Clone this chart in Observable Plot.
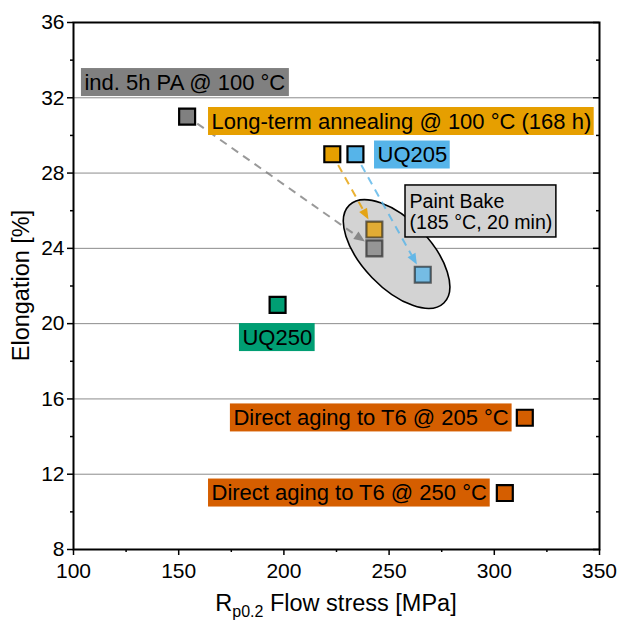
<!DOCTYPE html>
<html><head><meta charset="utf-8">
<script src="https://cdn.jsdelivr.net/npm/d3@7"></script>
<script src="https://cdn.jsdelivr.net/npm/@observablehq/plot@0.6"></script>
<style>body{margin:0;background:#fff}</style>
</head><body><div id="chart"></div>
<script>
const FONT = "'Liberation Sans', Arial, Helvetica, sans-serif";

// ---- data ----
const pointNames = ["ind. 5h PA", "Long-term annealing", "UQ205", "UQ250", "T6 205", "T6 250", "PB long-term", "PB ind. PA", "PB UQ205"];
const flowStress = [154, 223, 234, 197, 314.5, 305, 243, 243, 266];
const elongation = [31, 29, 29, 21, 15, 11, 25, 24, 22.6];
const pointColors = ["#808080", "#E69F00", "#56B4E9", "#009E73", "#D55E00", "#D55E00", "#E69F00", "#808080", "#56B4E9"];
const paintBaked = [false, false, false, false, false, false, true, true, true];

const arrowFrom = [0, 1, 2];
const arrowTo = [7, 6, 8];
const arrowColors = ["#808080", "#E69F00", "#56B4E9"];

const labelTexts = ["ind. 5h PA @ 100 °C", "Long-term annealing @ 100 °C (168 h)", "UQ205", "UQ250", "Direct aging to T6 @ 205 °C", "Direct aging to T6 @ 250 °C"];
const labelX = [105.2, 165.6, 244.5, 180.3, 176.0, 165.6];
const labelY = [32.81, 30.74, 28.96, 19.26, 14.99, 11.0];
const labelFills = ["#808080", "#E69F00", "#56B4E9", "#009E73", "#D55E00", "#D55E00"];

const paintBakeText = "Paint Bake\n(185 °C, 20 min)";
const paintBakeX = 259.7, paintBakeY = 25.96;
const ellipseCenterX = 253.8, ellipseCenterY = 23.67;

const xTicks = [100, 150, 200, 250, 300, 350];
const xMinor = [125, 175, 225, 275, 325];
const yTicks = [8, 12, 16, 20, 24, 28, 32, 36];
const yMinor = [10, 14, 18, 22, 26, 30, 34];
const gridLines = [12, 16, 20, 24, 28, 32];

const xTitle = ["R", "p0.2", " Flow stress [MPa]"];
const yTitle = "Elongation [%]";

// ---- helpers ----
const ctx = document.createElement("canvas").getContext("2d");
function measure(t, size) { ctx.font = `${size}px 'Liberation Sans'`; return ctx.measureText(t).width; }

const W = 617, H = 620, ML = 73, MR = 18, MT = 22, MB = 71;

function ellipseMark(index, {x, y}) {
  const g = d3.create("svg:g");
  g.append("ellipse")
    .attr("cx", 0).attr("cy", 0).attr("rx", 68).attr("ry", 34)
    .attr("transform", `translate(${x(ellipseCenterX)},${y(ellipseCenterY)}) rotate(46)`)
    .attr("fill", "#d3d3d3").attr("stroke", "black").attr("stroke-width", 1.6);
  return g.node();
}

function arrowMark(index, {x, y}) {
  const g = d3.create("svg:g");
  arrowFrom.forEach((s, i) => {
    const e = arrowTo[i];
    const x1 = x(flowStress[s]), y1 = y(elongation[s]), x2 = x(flowStress[e]), y2 = y(elongation[e]);
    const L = Math.hypot(x2 - x1, y2 - y1), ux = (x2 - x1) / L, uy = (y2 - y1) / L;
    const sx = x1 + ux * 13, sy = y1 + uy * 13;
    const ex = x2 - ux * 11, ey = y2 - uy * 11;
    const head = 11, hw = 4.5;
    const bx = ex - ux * head, by = ey - uy * head;
    g.append("line").attr("x1", sx).attr("y1", sy).attr("x2", bx).attr("y2", by)
      .attr("stroke", arrowColors[i]).attr("stroke-width", 2).attr("stroke-dasharray", "8,6")
      .attr("stroke-opacity", 0.8);
    g.append("path").attr("d", `M${ex},${ey}L${bx - uy * hw},${by + ux * hw}L${bx + uy * hw},${by - ux * hw}Z`)
      .attr("fill", arrowColors[i]).attr("fill-opacity", 0.9);
  });
  return g.node();
}

function boxMark(index, {x, y}) {
  const g = d3.create("svg:g");
  labelTexts.forEach((t, i) => {
    const w = measure(t, 22);
    const px = x(labelX[i]), py = y(labelY[i]);
    g.append("rect").attr("x", px - 3).attr("y", py - 14).attr("width", w + 6).attr("height", 28)
      .attr("fill", labelFills[i]);
  });
  const lines = paintBakeText.split("\n");
  const w = Math.max(...lines.map(l => measure(l, 19.6)));
  const px = x(paintBakeX), py = y(paintBakeY);
  g.append("rect").attr("x", px - 4).attr("y", py - 26).attr("width", w + 8).attr("height", 52)
    .attr("fill", "#d3d3d3").attr("stroke", "black").attr("stroke-width", 1.5);
  return g.node();
}

function titleMark(index, scales, values, dims) {
  const g = d3.create("svg:g").attr("font-family", FONT).attr("fill", "black");
  const cx = ML + (W - ML - MR) / 2;
  const t = g.append("text").attr("x", cx).attr("y", 611).attr("text-anchor", "middle").attr("font-size", 23.5);
  t.append("tspan").text(xTitle[0]);
  t.append("tspan").attr("font-size", 16).attr("dy", 6).text(xTitle[1]);
  t.append("tspan").attr("dy", -6).text(xTitle[2]);
  g.append("text").attr("transform", `translate(29,${MT + (H - MT - MB) / 2}) rotate(-90)`)
    .attr("text-anchor", "middle").attr("font-size", 23.5).text(yTitle);
  return g.node();
}

const pts = pointNames.map((n, i) => ({name: n, x: flowStress[i], y: elongation[i], c: pointColors[i], pb: paintBaked[i]}));

const chart = Plot.plot({
  width: W, height: H,
  marginLeft: ML, marginRight: MR, marginTop: MT, marginBottom: MB,
  style: {fontFamily: FONT, fontSize: "21px", color: "black", background: "white"},
  x: {domain: [100, 350], label: null},
  y: {domain: [8, 36], label: null},
  marks: [
    Plot.gridY({ticks: gridLines, stroke: "#8c8c8c", strokeOpacity: 1, strokeWidth: 1}),
    ellipseMark,
    arrowMark,
    boxMark,
    Plot.text(labelTexts, {x: (d, i) => labelX[i], y: (d, i) => labelY[i], text: d => d, textAnchor: "start", fontSize: 22, fill: "black"}),
    Plot.text([paintBakeText], {x: () => paintBakeX, y: () => paintBakeY, text: d => d, textAnchor: "start", lineAnchor: "middle", fontSize: 19.6, lineHeight: 1.1, fill: "black"}),
    Plot.dot(pts.filter(d => !d.pb), {x: "x", y: "y", fill: "c", symbol: "square", r: 9, stroke: "black", strokeWidth: 2.2}),
    Plot.dot(pts.filter(d => d.pb), {x: "x", y: "y", fill: "c", symbol: "square", r: 9, stroke: "black", strokeWidth: 2.2, fillOpacity: 0.75, strokeOpacity: 0.55}),
    Plot.frame({stroke: "black", strokeWidth: 2}),
    Plot.axisY({ticks: yTicks, anchor: "left", tickSize: 6, tickPadding: 3, fontSize: 21, label: null, strokeWidth: 1.5}),
    Plot.axisY({ticks: yMinor, anchor: "left", tickSize: 3, tickFormat: () => "", label: null, strokeWidth: 1.5}),
    Plot.tickY(yTicks, {y: d => d, insetLeft: W - ML - MR - 6, stroke: "black", strokeWidth: 1.5}),
    Plot.tickY(yMinor, {y: d => d, insetLeft: W - ML - MR - 3, stroke: "black", strokeWidth: 1.5}),
    Plot.axisX({ticks: xTicks, anchor: "bottom", tickSize: 6, tickPadding: 8, fontSize: 21, label: null, strokeWidth: 1.5}),
    Plot.axisX({ticks: xMinor, anchor: "bottom", tickSize: 3, tickFormat: () => "", label: null, strokeWidth: 1.5}),
    titleMark
  ]
});
document.getElementById("chart").appendChild(chart);
</script>
</body></html>
